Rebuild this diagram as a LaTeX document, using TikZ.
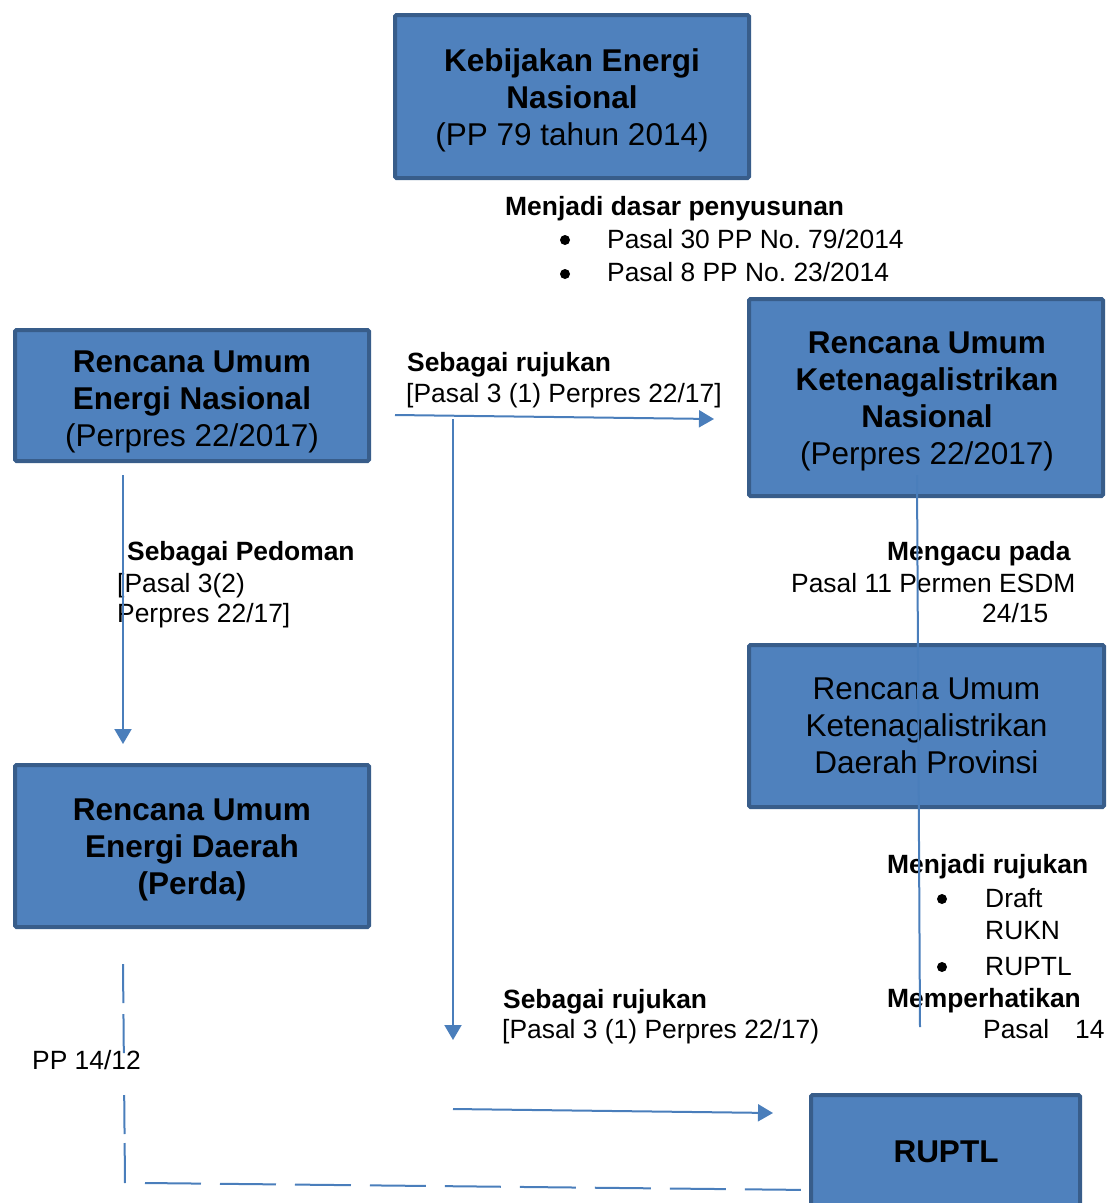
\documentclass[tikz,border=0pt]{standalone}
\usepackage{fontspec}
\setmainfont{Liberation Sans}
\usetikzlibrary{arrows.meta}
\definecolor{boxfill}{HTML}{4F81BD}
\definecolor{boxline}{HTML}{385D8A}
\definecolor{connc}{HTML}{4A7EBB}
\newcommand{\bxfont}{\fontsize{31.5}{37}\selectfont}
\newcommand{\lbfont}{\fontsize{26.4}{32}\selectfont}
\frenchspacing
\begin{document}
\begin{tikzpicture}[x=1pt,y=-1pt,
  boxshape/.style={draw=boxline, fill=boxfill, line width=4pt, rounded corners=1.5pt, inner sep=0pt},
  boxtext/.style={align=center, inner sep=0pt, font=\bxfont},
  lbl/.style={anchor=base west, inner sep=0pt, font=\lbfont},
  bul/.style={circle, fill=black, inner sep=0pt, minimum size=10pt},
  connline/.style={draw=connc, line width=2pt},
  arr/.style={connline, -{Triangle[length=15pt,width=17pt]}}]
\useasboundingbox (0,0) rectangle (1107,1203);
\clip (0,0) rectangle (1107,1203);

% boxes
\node[boxshape, minimum width=354pt, minimum height=163pt] (ken) at (572,96.5) {};
\node[boxtext] (kent) at (572,100) {\textbf{Kebijakan Energi}\\\textbf{Nasional}\\(PP 79 tahun 2014)};

\node[boxshape, minimum width=354pt, minimum height=131pt] (ruen) at (192,395.5) {};
\node[boxtext] (ruent) at (192,402) {\textbf{Rencana Umum}\\\textbf{Energi Nasional}\\(Perpres 22/2017)};

\node[boxshape, minimum width=354pt, minimum height=197pt] (rukn) at (926,397.5) {};
\node[boxtext] (ruknt) at (927,401.5) {\textbf{Rencana Umum}\\\textbf{Ketenagalistrikan}\\\textbf{Nasional}\\(Perpres 22/2017)};

\node[boxshape, minimum width=355pt, minimum height=162pt] (rukd) at (926.5,726) {};
\node[boxtext] (rukdt) at (926.5,725.7) {Rencana Umum\\Ketenagalistrikan\\Daerah Provinsi};

\node[boxshape, minimum width=354pt, minimum height=162pt] (rued) at (192,846) {};
\node[boxtext] (ruedt) at (192,850) {\textbf{Rencana Umum}\\\textbf{Energi Daerah}\\\textbf{(Perda)}};

\node[boxshape, minimum width=269pt, minimum height=130pt] (ruptl) at (945.5,1160) {};
\node[boxtext] (ruptlt) at (946,1151.7) {\textbf{RUPTL}};

% labels
\node[lbl] (l1a) at (505,215) {\textbf{Menjadi dasar penyusunan}};
\node[bul] (d1) at (565,240) {};
\node[lbl] (l1b) at (607,248) {Pasal 30 PP No. 79/2014};
\node[bul] (d2) at (565,274) {};
\node[lbl] (l1c) at (607,281) {Pasal 8 PP No. 23/2014};

\node[lbl] (l2a) at (407,371) {\textbf{Sebagai rujukan}};
\node[lbl] (l2b) at (406,402) {[Pasal 3 (1) Perpres 22/17]};

\node[lbl] (l3a) at (127,560) {\textbf{Sebagai Pedoman}};
\node[lbl] (l3b) at (117,592) {[Pasal 3(2)};
\node[lbl] (l3c) at (117,622) {Perpres 22/17]};

\node[lbl] (l4a) at (887,560) {\textbf{Mengacu pada}};
\node[lbl] (l4b) at (791,592) {Pasal 11 Permen ESDM};
\node[lbl] (l4c) at (982,622) {24/15};

\node[lbl] (l5a) at (887,873) {\textbf{Menjadi rujukan}};
\node[bul] (d3) at (942,899) {};
\node[lbl] (l5b) at (985,907) {Draft};
\node[lbl] (l5c) at (985,939) {RUKN};
\node[bul] (d4) at (942,967) {};
\node[lbl] (l5d) at (985,975) {RUPTL};
\node[lbl] (l5e) at (887,1007) {\textbf{Memperhatikan}};
\node[lbl] (l5f) at (983,1038) {Pasal\hspace{26pt}14};

\node[lbl] (l6a) at (503,1008) {\textbf{Sebagai rujukan}};
\node[lbl] (l6b) at (502,1038) {[Pasal 3 (1) Perpres 22/17)};

\node[lbl] (l7) at (32,1069) {PP 14/12};

% connector end points
\coordinate (c1s) at (123,475);
\coordinate (c1e) at (123,744);
\coordinate (c2s) at (395,415);
\coordinate (c2e) at (714,419);
\coordinate (c3s) at (453,419);
\coordinate (c3e) at (453,1040);
\coordinate (c4s) at (453,1109);
\coordinate (c4e) at (773,1113);
\coordinate (c5s) at (917,475);
\coordinate (c5e) at (920,1027);
\coordinate (c6s) at (123,964);
\coordinate (c6e) at (125,1183);
\coordinate (c7s) at (145,1183);
\coordinate (c7e) at (811,1190);

% connectors
\draw[arr] (c1s) -- (c1e);
\draw[arr] (c2s) -- (c2e);
\draw[arr] (c3s) -- (c3e);
\draw[arr] (c4s) -- (c4e);
\draw[connline] (c5s) -- (c5e);
\draw[connline, dash pattern=on 39pt off 11pt on 39pt off 42pt on 39pt off 9pt on 40pt] (c6s) -- (c6e);
\draw[connline, dash pattern=on 56pt off 19pt] (c7s) -- (c7e);
\end{tikzpicture}
\end{document}
